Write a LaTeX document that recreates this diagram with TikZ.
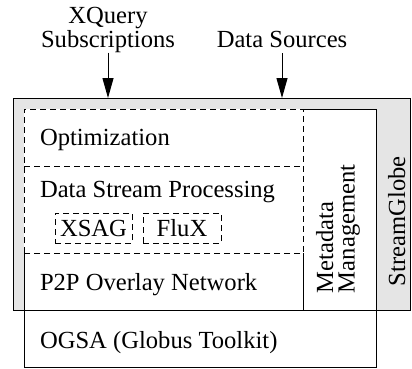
\documentclass[tikz,border=0pt]{standalone}
\usepackage{fontspec}
\setmainfont{Liberation Serif}
\usetikzlibrary{arrows.meta,calc}
\definecolor{globegray}{gray}{0.9}
\tikzset{
  layer/.style={rectangle, inner sep=0pt, outer sep=0pt},
  solidline/.style={line width=1pt, draw=black},
  dashline/.style={line width=1pt, draw=black, dash pattern=on 6pt off 4pt},
  caption/.style={inner sep=0pt, outer sep=0pt},
  feed/.style={line width=1pt, -{Triangle[length=20pt,width=11pt]}},
}
\begin{document}
\begin{tikzpicture}[x=1pt, y=-1pt, font=\fontsize{24.6}{21.5}\selectfont]
\useasboundingbox (0,0) rectangle (412,368);

% StreamGlobe frame and the OGSA base layer
\node[layer, solidline, fill=globegray, minimum width=397, minimum height=212] (sg) at (211.5,204) {};
\node[layer, solidline, fill=white, minimum width=352, minimum height=57] (ogsa) at (200,338.5) {};

% inner layers (white areas, edges drawn afterwards)
\node[layer, fill=white, minimum width=279, minimum height=57] (opt) at (163.5,137.5) {};
\node[layer, fill=white, minimum width=279, minimum height=87] (dsp) at (163.5,209.5) {};
\node[layer, fill=white, minimum width=279, minimum height=57] (p2p) at (163.5,281.5) {};
\node[layer, fill=white, minimum width=73, minimum height=201] (meta) at (339.5,209.5) {};

% dashed block: optimization + data stream processing
\draw[dashline] (p2p.north west) -- (opt.north west) -- (opt.north east) -- (p2p.north east) -- cycle;
\draw[dashline] (dsp.north west) -- (dsp.north east);

% solid edges of the overlay network and metadata column
\draw[solidline] (p2p.north west) -- (p2p.south west);
\draw[solidline] (p2p.north east) -- (p2p.south east);
\draw[solidline] (meta.north west) -- (meta.north east) -- (meta.south east);

% operator boxes
\node[layer, dashline, minimum width=77, minimum height=30] (xsag) at (93.5,228) {XSAG};
\node[layer, dashline, minimum width=78, minimum height=30] (flux) at (182,228) {FluX};

% layer captions
\node[caption, anchor=base west] (topt) at (40,145) {Optimization};
\node[caption, anchor=base west] (tdsp) at (40,197) {Data Stream Processing};
\node[caption, anchor=base west] (tp2p) at (40,290) {P2P Overlay Network};
\node[caption, anchor=base west] (togsa) at (40,348) {OGSA (Globus Toolkit)};
\node[caption, anchor=west, rotate=90, align=left] (tmeta) at (338,293) {Metadata\\Management};
\node[caption, anchor=base west, rotate=90] (tsg) at (405,286) {StreamGlobe};

% inputs from above
\node[caption, anchor=south, align=center] (xq) at (108,52.5) {XQuery\\Subscriptions};
\node[caption, anchor=base] (ds) at (282,47) {Data Sources};
\draw[feed] (xq.south) -- (xq.south |- sg.north);
\draw[feed] ($(ds.base)+(0,6)$) -- (ds.base |- sg.north);
\end{tikzpicture}
\end{document}
